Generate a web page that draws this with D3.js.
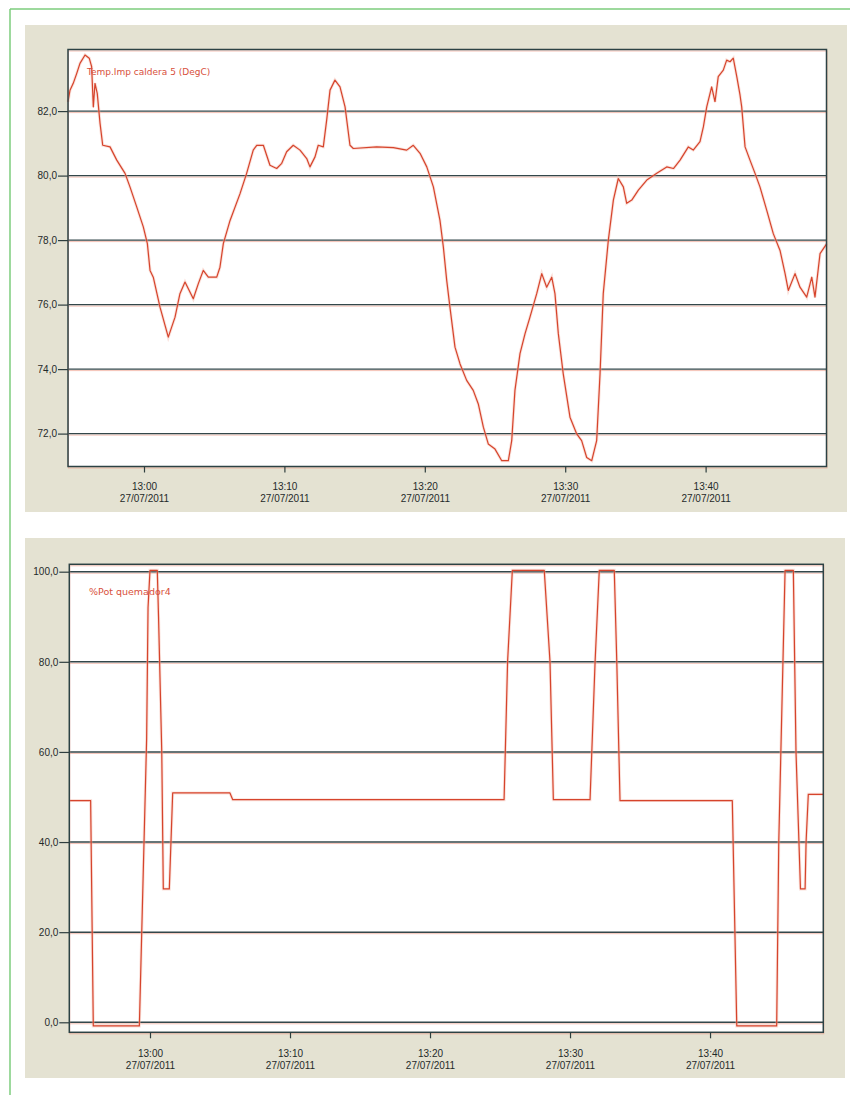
<!DOCTYPE html>
<html lang="es">
<head>
<meta charset="UTF-8">
<title>Temp.Imp caldera 5 / %Pot quemador4</title>
<script src="https://d3js.org/d3.v7.min.js"></script>
<style>
    body { margin: 0; background: #fff; }
    svg { display: block; font-family: "DejaVu Sans", Verdana, sans-serif; }
    .axis text { font-size: 10px; fill: #1f2a2a; }
    .axis path { display: none; }
    .axis line { stroke: #2e3e3e; stroke-width: 1.2; }
</style>
</head>
<body>
<svg id="chart" width="850" height="1095"></svg>

<script>
    // minutes after 13:00 on 27/07/2011
    const tempMinutes = [-5.41, -5.27, -5.04, -4.79, -4.56, -4.20, -3.90, -3.73, -3.61, -3.49,
        -3.33, -3.13, -2.94, -2.42, -1.94, -1.35, -1.00, -0.52, -0.05, 0.24,
        0.43, 0.66, 1.14, 1.73, 2.21, 2.56, 2.92, 3.51, 3.87, 4.22,
        4.58, 5.18, 5.41, 5.65, 6.13, 6.84, 7.31, 7.78, 8.03, 8.50,
        8.97, 9.45, 9.81, 10.16, 10.63, 11.11, 11.59, 11.82, 12.18, 12.41,
        12.77, 13.01, 13.25, 13.60, 13.96, 14.32, 14.67, 14.91, 16.57, 17.76,
        18.71, 19.18, 19.66, 20.14, 20.61, 21.08, 21.32, 21.56, 21.79, 22.15,
        22.51, 22.98, 23.45, 23.81, 24.17, 24.52, 25.00, 25.48, 25.95, 26.19,
        26.42, 26.78, 27.14, 27.49, 27.97, 28.33, 28.68, 29.04, 29.27, 29.51,
        29.86, 30.34, 30.82, 31.17, 31.53, 31.89, 32.24, 32.48, 32.71, 33.07,
        33.43, 33.78, 34.14, 34.38, 34.74, 35.21, 35.81, 36.52, 37.23, 37.71,
        38.18, 38.77, 39.12, 39.60, 39.84, 40.08, 40.43, 40.67, 40.90, 41.26,
        41.50, 41.74, 41.97, 42.22, 42.45, 42.57, 42.81, 43.16, 43.52, 43.87,
        44.35, 44.82, 45.30, 45.66, 45.89, 46.37, 46.72, 47.20, 47.56, 47.79,
        48.15, 48.63];
    const tempValues = [82.29, 82.65, 82.86, 83.17, 83.48, 83.74, 83.64, 83.38, 82.13, 82.86,
        82.55, 81.62, 80.94, 80.89, 80.48, 80.07, 79.65, 79.03, 78.41, 77.89,
        77.06, 76.85, 75.92, 74.99, 75.61, 76.34, 76.70, 76.18, 76.65, 77.06,
        76.85, 76.85, 77.16, 77.89, 78.61, 79.44, 80.07, 80.79, 80.94, 80.94,
        80.32, 80.22, 80.38, 80.74, 80.94, 80.79, 80.53, 80.27, 80.58, 80.94,
        80.89, 81.72, 82.65, 82.96, 82.75, 82.13, 80.94, 80.84, 80.89, 80.87,
        80.79, 80.94, 80.69, 80.27, 79.65, 78.61, 77.79, 76.75, 75.92, 74.68,
        74.16, 73.65, 73.34, 72.92, 72.20, 71.68, 71.52, 71.16, 71.16, 71.78,
        73.34, 74.48, 75.10, 75.61, 76.34, 76.96, 76.54, 76.85, 76.34, 75.10,
        73.85, 72.51, 71.99, 71.78, 71.26, 71.16, 71.78, 73.85, 76.34, 77.99,
        79.24, 79.91, 79.65, 79.14, 79.24, 79.55, 79.86, 80.07, 80.27, 80.22,
        80.48, 80.89, 80.79, 81.05, 81.51, 82.13, 82.75, 82.29, 83.07, 83.27,
        83.58, 83.53, 83.64, 83.07, 82.50, 82.13, 80.89, 80.48, 80.07, 79.65,
        78.93, 78.20, 77.68, 76.96, 76.44, 76.96, 76.54, 76.23, 76.85, 76.23,
        77.58, 77.89];

    const potMinutes = [-5.76, -4.24, -4.05, -0.76, -0.24, -0.14, 0, 0.52, 0.61, 0.84,
        0.95, 1.38, 1.62, 5.71, 5.91, 25.29, 25.54, 25.88, 28.16, 28.57,
        28.81, 31.43, 31.79, 32.09, 33.16, 33.34, 33.57, 41.59, 41.91, 44.76,
        44.91, 45.36, 45.95, 46.14, 46.46, 46.79, 46.86, 47.02, 48.09];
    const potValues = [49.2, 49.2, -0.8, -0.8, 63, 92, 100.3, 100.3, 90, 60,
        29.6, 29.6, 50.9, 50.9, 49.4, 49.4, 80, 100.3, 100.3, 80,
        49.4, 49.4, 80, 100.3, 100.3, 80, 49.2, 49.2, -0.8, -0.8,
        40, 100.3, 100.3, 60, 29.6, 29.6, 40, 50.6, 50.6];

    const tempTicks = [72, 74, 76, 78, 80, 82];
    const potTicks = [0, 20, 40, 60, 80, 100];
    const timeTicks = ["13:00", "13:10", "13:20", "13:30", "13:40"];
    const tickDate = "27/07/2011";
    const tempLabel = "Temp.Imp caldera 5 (DegC)";
    const potLabel = "%Pot quemador4";

    const parseClock = d3.timeParse("%d/%m/%Y %H:%M:%S");
    const base = parseClock("27/07/2011 13:00:00");
    const atMinute = m => new Date(base.getTime() + m * 60000);
    const fmt = d3.formatLocale({ decimal: ",", thousands: ".", grouping: [3], currency: ["", ""] }).format(".1f");

    const svg = d3.select("#chart");

    // page frame
    svg.append("line").attr("x1", 10).attr("x2", 850).attr("y1", 9).attr("y2", 9)
        .attr("stroke", "#7ccd7c").attr("stroke-width", 1.5);
    svg.append("line").attr("x1", 10).attr("x2", 10).attr("y1", 9).attr("y2", 1095)
        .attr("stroke", "#7ccd7c").attr("stroke-width", 1.5);

    function drawPanel(cfg) {
        const g = svg.append("g");
        g.append("rect")
            .attr("x", cfg.panel[0]).attr("y", cfg.panel[1])
            .attr("width", cfg.panel[2]).attr("height", cfg.panel[3])
            .attr("fill", "#e4e2d2");

        const x = d3.scaleTime()
            .domain([atMinute(cfg.xMin), atMinute(cfg.xMax)])
            .range([cfg.left, cfg.right]);
        const y = d3.scaleLinear()
            .domain(cfg.yDomain)
            .range([cfg.bottom, cfg.top]);

        g.append("rect")
            .attr("x", cfg.left).attr("y", cfg.top)
            .attr("width", cfg.right - cfg.left).attr("height", cfg.bottom - cfg.top)
            .attr("fill", "#fff");

        // grid lines (dark with a faint red shadow, like the print)
        cfg.yTicks.forEach(v => {
            g.append("line")
                .attr("x1", cfg.left).attr("x2", cfg.right)
                .attr("y1", y(v) + 1.5).attr("y2", y(v) + 1.5)
                .attr("stroke", "#ef9a86").attr("stroke-width", 1).attr("opacity", 0.6);
            g.append("line")
                .attr("x1", cfg.left).attr("x2", cfg.right)
                .attr("y1", y(v)).attr("y2", y(v))
                .attr("stroke", "#33474a").attr("stroke-width", 1.4);
        });

        const data = cfg.minutes.map((m, i) => ({ t: atMinute(m), v: cfg.values[i] }));
        const line = d3.line().x(d => x(d.t)).y(d => y(d.v));
        g.append("path").datum(data)
            .attr("fill", "none").attr("stroke", "#f3b3a6").attr("stroke-width", 3)
            .attr("opacity", 0.4).attr("d", line);
        g.append("path").datum(data)
            .attr("fill", "none").attr("stroke", "#d6442c").attr("stroke-width", 1.2)
            .attr("stroke-linejoin", "round").attr("d", line);

        // plot border
        g.append("rect")
            .attr("x", cfg.left + 0.5).attr("y", cfg.top + 1.5)
            .attr("width", cfg.right - cfg.left).attr("height", cfg.bottom - cfg.top)
            .attr("fill", "none").attr("stroke", "#ef9a86").attr("opacity", 0.6);
        g.append("rect")
            .attr("x", cfg.left).attr("y", cfg.top)
            .attr("width", cfg.right - cfg.left).attr("height", cfg.bottom - cfg.top)
            .attr("fill", "none").attr("stroke", "#2c4244").attr("stroke-width", 1.5);

        g.append("g").attr("class", "axis")
            .attr("transform", `translate(${cfg.left},0)`)
            .call(d3.axisLeft(y).tickValues(cfg.yTicks).tickSize(10).tickPadding(1).tickFormat(fmt));

        const xTickDates = timeTicks.map(s => parseClock(`${tickDate} ${s}:00`));
        const xAxis = g.append("g").attr("class", "axis")
            .attr("transform", `translate(0,${cfg.bottom})`)
            .call(d3.axisBottom(x).tickValues(xTickDates).tickSize(6));
        xAxis.selectAll("text").each(function (d, i) {
            const t = d3.select(this).text("").attr("dy", null).attr("y", null);
            t.append("tspan").attr("x", 0).attr("y", cfg.label1).text(timeTicks[i]);
            t.append("tspan").attr("x", 0).attr("y", cfg.label2).text(tickDate);
        });

        g.append("text")
            .attr("x", cfg.legend[0]).attr("y", cfg.legend[1])
            .attr("font-size", cfg.legendSize)
            .attr("fill", "#d8503c")
            .text(cfg.label);
    }

    drawPanel({
        panel: [25, 25, 822, 487],
        left: 68, right: 826.5, top: 49.5, bottom: 466.5,
        xMin: -5.413, xMax: 48.61,
        yDomain: [70.98, 83.91],
        yTicks: tempTicks,
        minutes: tempMinutes, values: tempValues,
        label: tempLabel, legend: [87, 74.5], legendSize: "9px",
        label1: 23.5, label2: 35
    });

    drawPanel({
        panel: [25, 538, 820, 540],
        left: 69.3, right: 823.3, top: 564.3, bottom: 1032.3,
        xMin: -5.764, xMax: 48.09,
        yDomain: [-2.22, 101.64],
        yTicks: potTicks,
        minutes: potMinutes, values: potValues,
        label: potLabel, legend: [89, 595], legendSize: "9.5px",
        label1: 24.5, label2: 36.5
    });
</script>
</body>
</html>
